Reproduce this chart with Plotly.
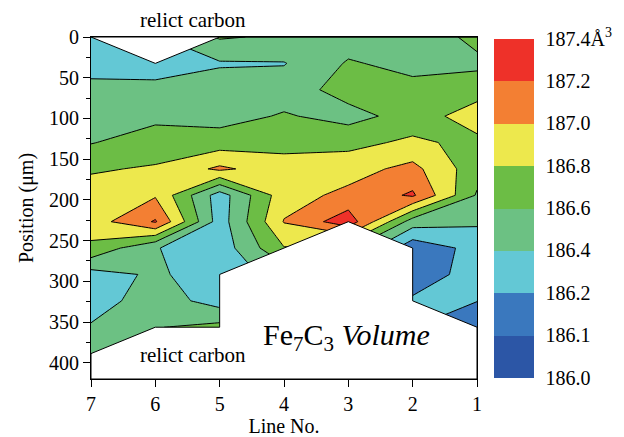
import numpy as np
import plotly.graph_objects as go

# ---------------- data ----------------
lines = [1, 2, 3, 4, 5, 6, 7]                       # Line No.
positions = [0, 32.4, 64.8, 97.2, 129.6, 162.0, 194.4,
             226.8, 259.2, 291.6, 324.0, 356.4, 388.8]  # Position (um)

# Fe7C3 unit-cell volume (A^3) along each line, None = no data (relict carbon)
line1 = [186.65, 186.56, 186.70, 186.92, 186.74, 186.68, 186.58, 186.43, 186.27, 186.26, 186.205, 186.12, None]
line2 = [186.48, 186.54, 186.66, 186.68, 186.84, 187.06, 187.23, 186.50, 186.13, 186.16, 186.22, None, None]
line3 = [186.50, 186.62, 186.68, 186.53, 186.74, 186.92, 187.05, 187.32, None, None, None, None, None]
line4 = [186.57, 186.39, 186.50, 186.62, 186.74, 186.88, 186.92, 187.01, 186.79, None, None, None, None]
line5 = [186.62, 186.38, 186.50, 186.52, 186.70, 187.04, 186.30, 186.30, 186.28, 186.30, 186.31, 186.66, None]
line6 = [None, 186.30, 186.46, 186.55, 186.70, 186.82, 186.98, 187.22, 186.41, 186.43, 186.51, 186.59, None]
line7 = [186.22, 186.33, 186.45, 186.52, 186.59, 186.78, 186.88, 186.90, 186.76, 186.32, 186.30, 186.42, 186.47]

levels = [186.0, 186.1, 186.2, 186.4, 186.6, 186.8, 187.0, 187.2, 187.4]
level_labels = ["186.0", "186.1", "186.2", "186.4", "186.6", "186.8", "187.0", "187.2", "187.4Å<sup>3</sup>"]
band_colors = ["#2C56A6", "#3A78BE", "#63C8D5", "#6CC183", "#6CBD45", "#EDE84D", "#F37F33", "#EE3129"]

# ---------------- build grid ----------------
cols = [line1, line2, line3, line4, line5, line6, line7]
Z = np.array([[np.nan if v is None else v for v in c] for c in cols], dtype=float).T  # rows = positions
# map the (non-uniform) contour levels onto level index space so Plotly can use equal steps
idx = np.arange(len(levels), dtype=float)
Zi = np.where(np.isnan(Z), np.nan, np.interp(np.nan_to_num(Z, nan=levels[0]), levels, idx))

# step colorscale robust to the band sampling
n = len(levels)
cscale = [[0.0, band_colors[0]]]
for j in range(len(band_colors) - 1):
    b = (j + 1.5) / n
    cscale += [[b, band_colors[j]], [b, band_colors[j + 1]]]
cscale += [[1.0, band_colors[-1]]]

FONT = "Liberation Serif, Times New Roman, serif"
y_max = 420

fig = go.Figure()
fig.add_trace(go.Contour(
    x=lines, y=positions, z=Zi,
    zmin=0, zmax=n - 1, zauto=False,
    colorscale=cscale,
    contours=dict(start=0, end=n - 1, size=1, coloring="fill", showlines=False),
    connectgaps=False,
    line=dict(width=0, smoothing=0),
    hoverinfo="skip",
    colorbar=dict(
        x=1.044, xanchor="left", xpad=0, y=0.5, yanchor="middle", ypad=0,
        len=0.99, lenmode="fraction", thickness=40, outlinewidth=0,
        tickmode="array", tickvals=list(idx), ticktext=level_labels,
        ticks="outside", ticklen=8, tickcolor="rgba(0,0,0,0)",
        tickfont=dict(family=FONT, size=20, color="black"),
    ),
))
fig.add_trace(go.Contour(
    x=lines, y=positions, z=Zi,
    contours=dict(start=0, end=n - 1, size=1, coloring="none", showlines=True),
    connectgaps=False,
    line=dict(color="black", width=1, smoothing=0),
    showscale=False, hoverinfo="skip",
))

# blank (relict carbon) regions derived from where each line has data
xs_desc = lines[::-1]
cols_desc = cols[::-1]
first = [min(i for i, v in enumerate(c) if v is not None) for c in cols_desc]
last = [max(i for i, v in enumerate(c) if v is not None) for c in cols_desc]

def hull_edge(ext, bottom):
    pts = []
    for i in range(len(xs_desc) - 1):
        a, b = xs_desc[i], xs_desc[i + 1]
        ea, eb = ext[i], ext[i + 1]
        seg = [(a, ea)]
        if bottom:
            if ea > eb:
                seg.append((a, eb + 1))
            elif ea < eb:
                seg.append((b, ea + 1))
        else:
            if ea < eb:
                seg.append((a, eb - 1))
            elif ea > eb:
                seg.append((b, ea - 1))
        seg.append((b, eb))
        for p in seg:
            if not pts or pts[-1] != p:
                pts.append(p)
    return [(x, positions[k]) for x, k in pts]

bot = hull_edge(last, True) + [(lines[0], y_max), (lines[-1], y_max)]
top = hull_edge(first, False)
for poly in (bot, top):
    px_, py_ = zip(*poly)
    fig.add_trace(go.Scatter(
        x=list(px_) + [px_[0]], y=list(py_) + [py_[0]], mode="lines",
        fill="toself", fillcolor="white", line=dict(color="black", width=1),
        hoverinfo="skip", showlegend=False,
    ))

fig.add_annotation(x=5.42, y=1.05, xref="x", yref="paper", text="relict carbon",
                   showarrow=False, yanchor="middle", xanchor="center",
                   font=dict(family=FONT, size=21, color="black"))
fig.add_annotation(x=5.42, y=390, xref="x", yref="y", text="relict carbon",
                   showarrow=False, yanchor="middle", xanchor="center",
                   font=dict(family=FONT, size=21, color="black"))
fig.add_annotation(x=3.03, y=369, xref="x", yref="y",
                   text="Fe<sub>7</sub>C<sub>3</sub> <i>Volume</i>",
                   showarrow=False, yanchor="middle", xanchor="center",
                   font=dict(family=FONT, size=30, color="black"))

axis_common = dict(showgrid=False, zeroline=False, showline=True, linecolor="black",
                   linewidth=1, mirror=True, ticks="outside", ticklen=7, tickwidth=1,
                   tickcolor="black", automargin=False,
                   tickfont=dict(family=FONT, size=20, color="black"))
fig.update_xaxes(range=[7, 1], tickmode="array", tickvals=lines,
                 title=dict(text="Line No.", font=dict(family=FONT, size=20, color="black"), standoff=10),
                 **axis_common)
fig.update_yaxes(range=[y_max, 0], tick0=0, dtick=50,
                 minor=dict(dtick=25, ticks="outside", ticklen=4, tickcolor="black"),
                 title=dict(text="Position (μm)", font=dict(family=FONT, size=20, color="black"), standoff=10),
                 **axis_common)
fig.update_layout(width=624, height=437, margin=dict(l=91, r=147, t=37, b=58),
                  plot_bgcolor="white", paper_bgcolor="white", showlegend=False,
                  font=dict(family=FONT, color="black"))
fig.write_html("out.html")
